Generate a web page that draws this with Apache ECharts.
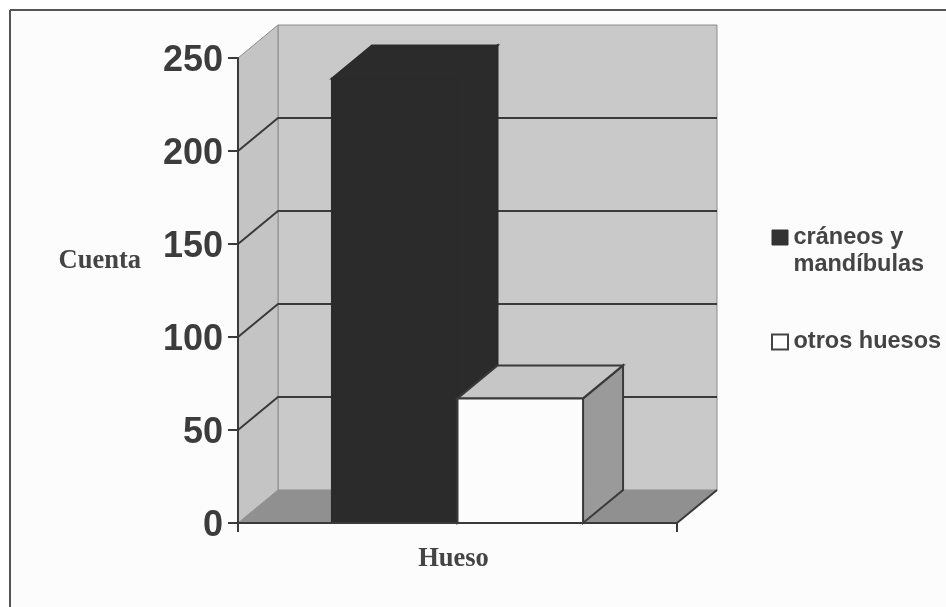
<!DOCTYPE html>
<html>
<head>
<meta charset="utf-8">
<title>Cuenta por hueso</title>
<script src="https://cdn.jsdelivr.net/npm/echarts@6/dist/echarts.min.js"></script>
<style>
    html, body { margin: 0; padding: 0; background: #fff; }
    #chart { width: 946px; height: 607px; }
</style>
</head>
<body>
<div id="chart"></div>
<script>
const categories = ["Hueso"];
const seriesNames = ["cráneos y\nmandíbulas", "otros huesos"];
const craneos = [239];
const otros = [67];
const yTicks = [0, 50, 100, 150, 200, 250];

// desplazamiento de la profundidad "3D", en pixeles
const DEPTH_X = 40;
const DEPTH_Y = -33;
const BAR_WIDTH = 0.286;
const LINE = "#3a3a3a";

// iconos de la leyenda: el cuadrado va arriba para quedar junto a la primera linea
const ICON_TOP = "path://M0 0H16V15H0Z M0 42L0 42";
const ICON_MID = "path://M0 13.5H16V28.5H0Z M0 0L0 0 M0 42L0 42";

const poly = (points, fill, stroke, lineWidth) => ({
    type: "polygon",
    shape: { points: points },
    style: { fill: fill, stroke: stroke, lineWidth: lineWidth }
});

// paredes, suelo y lineas de la cuadricula
const renderWalls = (params, api) => {
    const yMax = yTicks[yTicks.length - 1];
    const a = api.coord([0, 0]);
    const band = api.size([1, 0])[0];
    const x0 = a[0] - band / 2;
    const x1 = a[0] + band / 2;
    const y0 = a[1];
    const yTop = api.coord([0, yMax])[1];
    const bx0 = x0 + DEPTH_X;
    const bx1 = x1 + DEPTH_X;
    const by0 = y0 + DEPTH_Y;
    const byTop = yTop + DEPTH_Y;

    const children = [
        poly([[bx0, byTop], [bx1, byTop], [bx1, by0], [bx0, by0]], "#c9c9c9", "#8c8c8c", 1),
        poly([[x0, yTop], [bx0, byTop], [bx0, by0], [x0, y0]], "#c4c4c4", "#8c8c8c", 1),
        poly([[x0, y0], [x1, y0], [bx1, by0], [bx0, by0]], "#909090", "none", 0),
        {
            type: "line",
            shape: { x1: x1, y1: y0, x2: bx1, y2: by0 },
            style: { stroke: LINE, lineWidth: 2 }
        }
    ];
    yTicks.slice(1, -1).forEach(v => {
        const y = api.coord([0, v])[1];
        children.push({
            type: "polyline",
            shape: { points: [[x0, y], [bx0, y + DEPTH_Y], [bx1, y + DEPTH_Y]] },
            style: { fill: "none", stroke: LINE, lineWidth: 2 }
        });
    });
    return { type: "group", children: children };
};

// barra con cara frontal, superior y lateral
const renderBar = (offset, front, top, side, stroke) => (params, api) => {
    const base = api.coord([0, 0]);
    const head = api.coord([0, api.value(1)]);
    const band = api.size([1, 0])[0];
    const x0 = base[0] + band * offset;
    const x1 = x0 + band * BAR_WIDTH;
    const y0 = base[1];
    const y1 = head[1];
    return {
        type: "group",
        children: [
            poly([[x1, y1], [x1 + DEPTH_X, y1 + DEPTH_Y], [x1 + DEPTH_X, y0 + DEPTH_Y], [x1, y0]], side, stroke, 2),
            poly([[x0, y1], [x0 + DEPTH_X, y1 + DEPTH_Y], [x1 + DEPTH_X, y1 + DEPTH_Y], [x1, y1]], top, stroke, 2),
            poly([[x0, y1], [x1, y1], [x1, y0], [x0, y0]], front, stroke, 2)
        ]
    };
};

const chart = echarts.init(document.getElementById("chart"));

chart.setOption({
    animation: false,
    backgroundColor: "#fcfcfc",
    textStyle: { fontFamily: "Liberation Sans" },
    grid: { left: 238, right: 269, top: 58, bottom: 84 },
    graphic: [
        { type: "rect", shape: { x: 0, y: 0, width: 946, height: 10 }, style: { fill: "#fff" } },
        { type: "rect", shape: { x: 0, y: 0, width: 10, height: 607 }, style: { fill: "#fff" } },
        { type: "line", shape: { x1: 10, y1: 10, x2: 946, y2: 10 }, style: { stroke: "#555", lineWidth: 2 } },
        { type: "line", shape: { x1: 10, y1: 10, x2: 10, y2: 607 }, style: { stroke: "#555", lineWidth: 2 } }
    ],
    legend: {
        orient: "vertical",
        left: 766,
        top: 219,
        itemWidth: 17,
        itemHeight: 42,
        itemGap: 42,
        selectedMode: false,
        textStyle: {
            fontFamily: "Liberation Sans",
            fontWeight: "bold",
            fontSize: 23.5,
            lineHeight: 27,
            color: "#444"
        },
        data: [
            {
                name: seriesNames[0],
                icon: ICON_TOP,
                itemStyle: { color: "#333", borderColor: "#333", borderWidth: 1 }
            },
            {
                name: seriesNames[1],
                icon: ICON_MID,
                itemStyle: { color: "#fff", borderColor: "#444", borderWidth: 2 }
            }
        ]
    },
    xAxis: {
        type: "category",
        data: categories,
        axisLine: { lineStyle: { color: LINE, width: 2 } },
        axisTick: { show: true, alignWithLabel: false, length: 9, lineStyle: { color: LINE, width: 2 } },
        axisLabel: {
            margin: 23,
            padding: [0, 8, 0, 0],
            fontFamily: "Liberation Serif",
            fontWeight: "bold",
            fontSize: 26.5,
            color: "#444"
        },
        z: 5
    },
    yAxis: {
        type: "value",
        min: 0,
        max: 250,
        interval: 50,
        name: "{n|Cuenta}",
        nameLocation: "middle",
        nameRotate: 0,
        nameGap: 97,
        nameTextStyle: {
            rich: {
                n: {
                    fontFamily: "Liberation Serif",
                    fontWeight: "bold",
                    fontSize: 26.5,
                    color: "#444",
                    padding: [0, 0, 58, 0]
                }
            }
        },
        axisLine: { show: true, lineStyle: { color: LINE, width: 2 } },
        axisTick: { show: true, length: 10, lineStyle: { color: LINE, width: 2 } },
        axisLabel: {
            margin: 15,
            formatter: "{d|{value}}",
            rich: {
                d: {
                    fontFamily: "Liberation Sans",
                    fontWeight: "bold",
                    fontSize: 36,
                    color: "#3c3c3c",
                    padding: [6, 0, 0, 0]
                }
            }
        },
        splitLine: { show: false },
        z: 5
    },
    series: [
        {
            name: "paredes",
            type: "custom",
            z: 1,
            silent: true,
            renderItem: renderWalls,
            data: [[0, 0]]
        },
        {
            name: seriesNames[0],
            type: "custom",
            z: 2,
            renderItem: renderBar(-BAR_WIDTH, "#2b2b2b", "#2b2b2b", "#2b2b2b", "#2b2b2b"),
            encode: { x: 0, y: 1 },
            data: craneos.map((v, i) => [i, v])
        },
        {
            name: seriesNames[1],
            type: "custom",
            z: 3,
            renderItem: renderBar(0, "#fcfcfc", "#c6c6c6", "#9a9a9a", LINE),
            encode: { x: 0, y: 1 },
            data: otros.map((v, i) => [i, v])
        }
    ]
});

window.addEventListener("resize", () => chart.resize());
</script>
</body>
</html>
